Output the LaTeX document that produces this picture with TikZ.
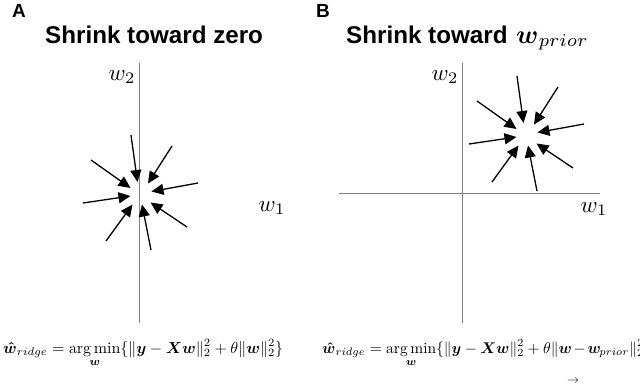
\documentclass[tikz,border=0pt]{standalone}
\usepackage{amsmath,amssymb}
\usepackage{fontspec}
\newfontfamily\titlefont{Liberation Sans}
\usetikzlibrary{arrows.meta,calc}
\tikzset{
  axis/.style={draw=gray, line width=0.9pt},
  shrinkarrow/.style={draw=black, line width=1.3pt, -{Triangle[length=12pt,width=11pt]}},
  paneltag/.style={font=\titlefont\bfseries\fontsize{19}{22}\selectfont, inner sep=0pt, anchor=base west},
  paneltitle/.style={font=\titlefont\bfseries\fontsize{24.2}{28}\selectfont, inner sep=0pt, anchor=base west},
  axlabel/.style={inner sep=0pt},
  formula/.style={inner sep=0pt, anchor=base west},
}
\newcommand\eqscale{1.594}
\newcommand\shrinkstar[2]{%
  \foreach \i/\tx/\ty/\hx/\hy in {1/-10/-59/-3.5/-12, 2/31/-48/7/-10.5, 3/-50/-34/-10.5/-6, 4/57/-11/10.5/-2.5,
                                  5/-58/9/-10.5/2, 6/-35/47/-8.5/10.5, 7/10/56/1/10.5, 8/46/33/9.5/8.5}{
    \coordinate (#1t\i) at ($(#2)+(\tx,\ty)$);
    \coordinate (#1h\i) at ($(#2)+(\hx,\hy)$);
    \draw[shrinkarrow] (#1t\i) -- (#1h\i);
  }}
\begin{document}
\begin{tikzpicture}[x=1pt,y=-1pt]
\useasboundingbox (0,0) rectangle (640,383);
\clip (0,0) rectangle (640,383);
% ---------- panel A
\node[paneltag] (tagA) at (12,17) {A};
\node[paneltitle] (titleA) at (45,43) {Shrink toward zero};
\coordinate (aTop) at (139,63);
\coordinate (aBot) at (139,323);
\draw[axis] (aTop) -- (aBot);
\node[axlabel] (aw2) at (122,77) {\scalebox{2.3}{$w_2$}};
\node[axlabel] (aw1) at (272,208) {\scalebox{2.3}{$w_1$}};
\coordinate (cA) at (141,194);
\shrinkstar{a}{cA}
\node[formula] (eqA) at (3,353) {\scalebox{\eqscale}{$\displaystyle \boldsymbol{\hat{w}}_{ridge} = \operatorname*{arg\,min}_{\boldsymbol{w}} \{ \|\boldsymbol{y}-\boldsymbol{X}\boldsymbol{w}\|_2^2 + \theta\|\boldsymbol{w}\|_2^2\}$}};
% ---------- panel B
\node[paneltag] (tagB) at (316,17) {B};
\node[paneltitle] (titleB) at (346,43) {Shrink toward};
\node[formula] (wprior) at (516,43) {\scalebox{2.6}{$\boldsymbol{w}_{prior}$}};
\coordinate (bTop) at (462,63);
\coordinate (bBot) at (462,323);
\coordinate (bLeft) at (339,193);
\coordinate (bRight) at (600,193);
\draw[axis] (bTop) -- (bBot);
\draw[axis] (bLeft) -- (bRight);
\node[axlabel] (bw2) at (445,77) {\scalebox{2.3}{$w_2$}};
\node[axlabel] (bw1) at (594,209) {\scalebox{2.3}{$w_1$}};
\coordinate (cB) at (527,135);
\shrinkstar{b}{cB}
\node[formula] (eqB) at (322,353) {\scalebox{1.55}{$\displaystyle \boldsymbol{\hat{w}}_{ridge} = \operatorname*{arg\,min}_{\boldsymbol{w}} \{ \|\boldsymbol{y}-\boldsymbol{X}\boldsymbol{w}\|_2^2 + \theta\|\boldsymbol{w}\mathbin{\mkern-2mu-\mkern-2mu}\boldsymbol{w}_{\mkern-2mu prior}\|_2^2$}};
\node[axlabel] (vecmark) at (573,381) {\scalebox{1.2}{$\rightarrow$}};
\end{tikzpicture}
\end{document}
